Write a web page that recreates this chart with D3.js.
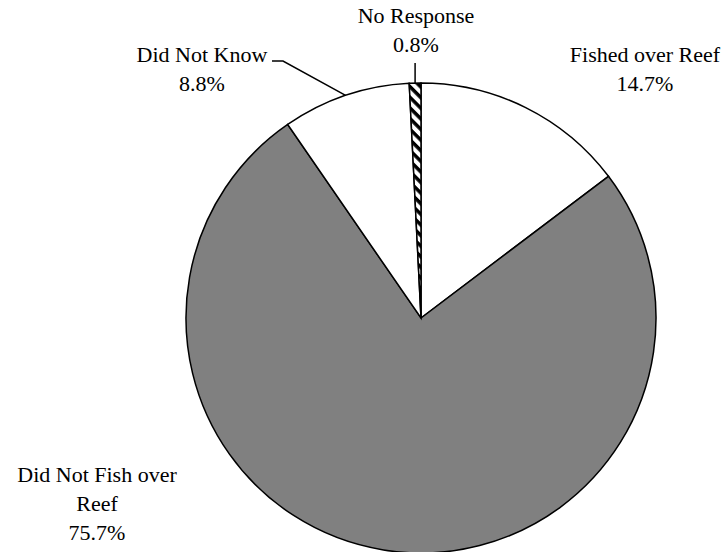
<!DOCTYPE html>
<html>
<head>
<meta charset="utf-8">
<script src="https://cdn.jsdelivr.net/npm/d3@7"></script>
</head>
<body style="margin:0;background:#fff">
<svg id="viz" width="728" height="552" style="display:block"></svg>
<script>
const categories = ["Fished over Reef", "Did Not Fish over Reef", "Did Not Know", "No Response"];
const values = [14.7, 75.7, 8.8, 0.8];
const fills = ["#ffffff", "#808080", "#ffffff", "url(#hatch)"];
const labelLines = [["Fished over Reef", "14.7%"], ["Did Not Fish over", "Reef", "75.7%"], ["Did Not Know", "8.8%"], ["No Response", "0.8%"]];

const W = 728, H = 552;
const cx = 421, cy = 318, R = 235;
const fontSize = 22, lineGap = 29;
// label anchors (center x, first baseline y)
const labelPos = [[645, 62], [97, 482], [202, 62], [416, 23]];

const svg = d3.select("#viz");
const defs = svg.append("defs");
const pat = defs.append("pattern").attr("id", "hatch").attr("patternUnits", "userSpaceOnUse")
  .attr("width", 7.5).attr("height", 7.5).attr("patternTransform", "rotate(45)");
pat.append("rect").attr("width", 7.5).attr("height", 7.5).attr("fill", "#fff");
pat.append("rect").attr("width", 7.5).attr("height", 3.5).attr("fill", "#000");

const pie = d3.pie().sort(null).value(d => d)(values);
const arc = d3.arc().innerRadius(0).outerRadius(R);

const g = svg.append("g").attr("transform", `translate(${cx},${cy})`);
g.selectAll("path").data(pie).join("path")
  .attr("d", arc)
  .attr("fill", (d, i) => fills[i])
  .attr("stroke", "#000")
  .attr("stroke-width", 1.5)
  .attr("stroke-linejoin", "miter");

function edgePoint(d) {
  const a = (d.startAngle + d.endAngle) / 2;
  return [cx + R * Math.sin(a), cy - R * Math.cos(a)];
}

// leader lines
const pNR = edgePoint(pie[3]);
svg.append("line").attr("x1", pNR[0]).attr("y1", pNR[1]).attr("x2", pNR[0]).attr("y2", 63)
  .attr("stroke", "#000").attr("stroke-width", 1.5);
const pDK = edgePoint(pie[2]);
svg.append("polyline").attr("points", `272,61 283,61 ${pDK[0]},${pDK[1]}`)
  .attr("fill", "none").attr("stroke", "#000").attr("stroke-width", 1.5);

labelLines.forEach((lines, i) => {
  lines.forEach((s, j) => {
    svg.append("text")
      .attr("style", `font-family: "Liberation Serif", "Times New Roman", serif; font-size: ${fontSize}px;`)
      .attr("x", labelPos[i][0]).attr("y", labelPos[i][1] + j * lineGap)
      .attr("text-anchor", "middle")
      .attr("fill", "#000")
      .text(s);
  });
});
</script>
</body>
</html>
